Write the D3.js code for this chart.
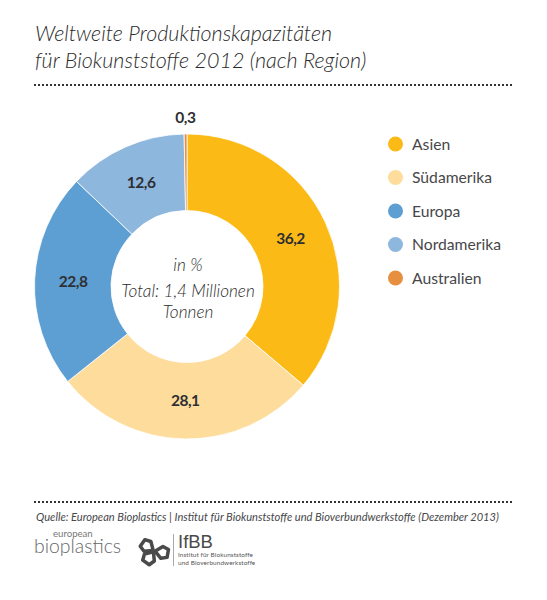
<!DOCTYPE html>
<html lang="de">
<head>
<meta charset="UTF-8">
<title>Biokunststoffe 2012</title>
<script src="https://cdn.jsdelivr.net/npm/d3@7"></script>
<style>
  html, body { margin: 0; padding: 0; background: #fff; }
  svg { display: block; font-family: Lato, sans-serif; }
</style>
</head>
<body>
<svg id="chart" width="547" height="600"></svg>
<script>
const regions = ["Asien", "Südamerika", "Europa", "Nordamerika", "Australien"];
const shares = [36.2, 28.1, 22.8, 12.6, 0.3];
const colors = ["#fbba16", "#fddc9c", "#5d9fd3", "#8eb7de", "#e58f3f"];
const titleLines = ["Weltweite Produktionskapazitäten", "für Biokunststoffe 2012 (nach Region)"];
const centerLines = ["in %", "Total: 1,4 Millionen", "Tonnen"];
const source = "Quelle: European Bioplastics | Institut für Biokunststoffe und Bioverbundwerkstoffe (Dezember 2013)";

const textColor = "#47474a";
const svg = d3.select("#chart");

// title
svg.selectAll(".title").data(titleLines).join("text")
    .attr("class", "title")
    .attr("x", 35)
    .attr("y", (d, i) => 41 + i * 27)
    .attr("font-size", 21.5)
    .attr("font-style", "italic")
    .attr("font-weight", 300)
    .attr("fill", "#2c2c2c")
    .text(d => d);

// dotted rules
svg.selectAll(".rule").data([85, 502]).join("line")
    .attr("class", "rule")
    .attr("x1", 34).attr("x2", 512)
    .attr("y1", d => d).attr("y2", d => d)
    .attr("stroke", "#333")
    .attr("stroke-width", 2)
    .attr("stroke-dasharray", "2 2");

// donut
const cx = 187, cy = 286.5, outer = 152.5, inner = 76;
const pie = d3.pie().sort(null)(shares);
const arc = d3.arc().innerRadius(inner).outerRadius(outer);
const g = svg.append("g").attr("transform", `translate(${cx},${cy})`);

g.selectAll("path").data(pie).join("path")
    .attr("d", arc)
    .attr("fill", (d, i) => colors[i])
    .attr("stroke", "#fff")
    .attr("stroke-width", 0.8);

const labelArc = d3.arc().innerRadius(114).outerRadius(114);
const smallArc = d3.arc().innerRadius(169).outerRadius(169);
g.selectAll(".val").data(pie).join("text")
    .attr("class", "val")
    .attr("transform", (d, i) => `translate(${(i === 4 ? smallArc : labelArc).centroid(d)})`)
    .attr("text-anchor", "middle")
    .attr("dy", "0.36em")
    .attr("font-size", 15.5)
    .attr("font-weight", 700)
    .attr("letter-spacing", -0.5)
    .attr("fill", "#2f2f33")
    .text(d => d.data.toFixed(1).replace(".", ","));

// center text
svg.selectAll(".center").data(centerLines).join("text")
    .attr("class", "center")
    .attr("x", cx + 1)
    .attr("y", (d, i) => [271, 297, 318][i])
    .attr("text-anchor", "middle")
    .attr("font-size", 17.2)
    .attr("font-style", "italic")
    .attr("font-weight", 300)
    .attr("fill", "#2c2c2c")
    .text(d => d);

// legend
const legendY = d3.scalePoint().domain(regions).range([144, 278]);
const legend = svg.selectAll(".leg").data(regions).join("g")
    .attr("class", "leg")
    .attr("transform", d => `translate(395.5,${legendY(d)})`);
legend.append("circle").attr("r", 7.5).attr("fill", (d, i) => colors[i]);
legend.append("text")
    .attr("x", 16.5)
    .attr("dy", "0.36em")
    .attr("font-size", 15.7)
    .attr("fill", textColor)
    .text(d => d);

// source
svg.append("text")
    .attr("x", 36).attr("y", 521)
    .attr("font-size", 11.1)
    .attr("font-style", "italic")
    .attr("fill", textColor)
    .text(source);

// logos
svg.append("text").attr("x", 53).attr("y", 537)
    .attr("font-size", 9.6).attr("fill", "#777").text("european");
svg.append("text").attr("x", 34).attr("y", 553)
    .attr("font-size", 19.4).attr("font-weight", 300).attr("fill", "#666").text("bioplastics");

const mark = svg.append("g").attr("transform", "translate(154,551)");
[-55, 100, 215].forEach(a => {
    mark.append("path")
        .attr("d", "M0,-1 L-6,-8 L-4,-14 L4,-14 L6,-8 Z")
        .attr("transform", `rotate(${a})`)
        .attr("fill", "none")
        .attr("stroke", "#4a4a4a")
        .attr("stroke-width", 3.5)
        .attr("stroke-linejoin", "round");
});
svg.append("line").attr("x1", 173.5).attr("x2", 173.5).attr("y1", 534).attr("y2", 566)
    .attr("stroke", "#aaa");
svg.append("text").attr("x", 178).attr("y", 548)
    .attr("font-family", "Liberation Sans")
    .attr("font-size", 18.5).attr("fill", "#4a4a4a").text("IfBB");
svg.selectAll(".ifbb").data(["Institut für Biokunststoffe", "und Bioverbundwerkstoffe"]).join("text")
    .attr("class", "ifbb")
    .attr("x", 178)
    .attr("y", (d, i) => 557 + i * 7.5)
    .attr("font-size", 6.4)
    .attr("letter-spacing", 0.1)
    .attr("fill", "#555")
    .text(d => d);
</script>
</body>
</html>
